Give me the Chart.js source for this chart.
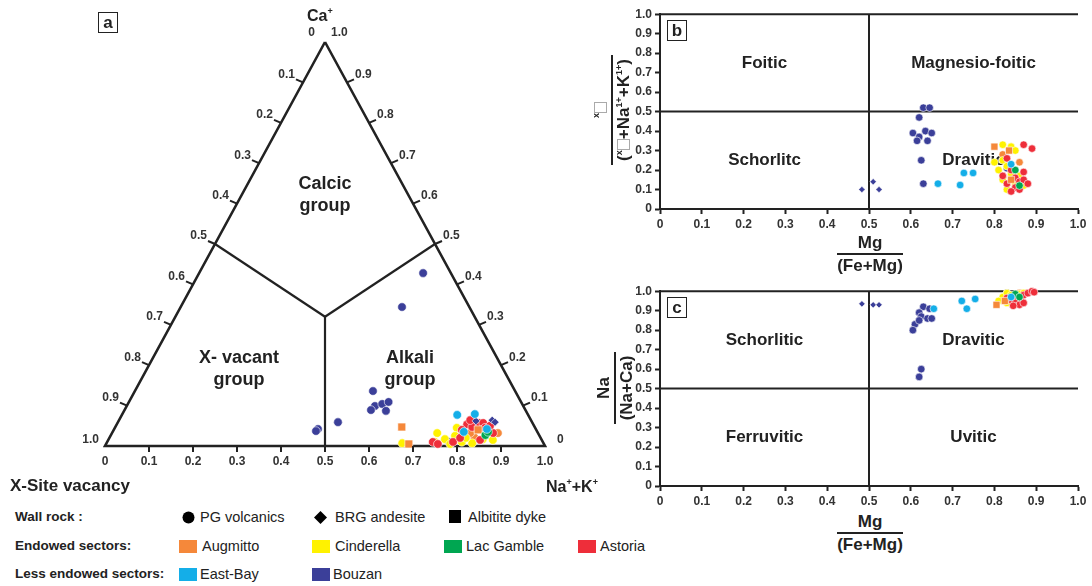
<!DOCTYPE html>
<html lang="en">
<head>
<meta charset="UTF-8">
<title>Tourmaline classification diagrams</title>
<script src="https://cdn.jsdelivr.net/npm/chart.js"></script>
<style>
  body { margin: 0; background: #fff; width: 1092px; height: 586px; overflow: hidden; position: relative;
         font-family: "Liberation Sans", Arial, sans-serif; color: #222; }
  canvas { position: absolute; }
  .txt { position: absolute; font-weight: bold; white-space: nowrap; }
  .tag { position: absolute; border: 1.5px solid #222; font-weight: bold; font-size: 17px; line-height: 19px;
         text-align: center; width: 18px; height: 19px; }
  .grp { position: absolute; font-weight: bold; font-size: 18px; line-height: 22px; text-align: center; width: 120px; }
  .frac { position: absolute; font-weight: bold; font-size: 17px; line-height: 19px; text-align: center; }
  .frac .bar { border-top: 2px solid #222; margin: 1px 0; }
  .rot { transform: rotate(-90deg); transform-origin: 50% 50%; }
  .vac { display: inline-block; width: 9px; height: 11px; border: 1px solid #aaa; vertical-align: -1px; }
  .frac sup, .txt sup { font-size: 9px; vertical-align: 7px; line-height: 0; }
  .lg { position: absolute; font-size: 14.5px; line-height: 18px; white-space: nowrap; }
  .lg.hd { font-weight: bold; font-size: 13.5px; }
  .sw { position: absolute; width: 18px; height: 13px; }
</style>
</head>
<body>

<canvas id="ternary" width="590" height="500" style="left:0;top:0"></canvas>
<canvas id="chartB" width="492" height="230" style="left:600px;top:4px"></canvas>
<canvas id="chartC" width="492" height="230" style="left:600px;top:281px"></canvas>

<!-- panel a texts -->
<div class="tag" style="left:98px;top:12px">a</div>
<div class="txt" style="left:307px;top:7px;font-size:16px">Ca<sup>+</sup></div>
<div class="grp" style="left:265px;top:172px">Calcic<br>group</div>
<div class="grp" style="left:179px;top:346px">X- vacant<br>group</div>
<div class="grp" style="left:350px;top:346px">Alkali<br>group</div>
<div class="txt" style="left:10px;top:476px;font-size:17px">X-Site vacancy</div>
<div class="txt" style="left:546px;top:478px;font-size:16px">Na<sup>+</sup>+K<sup>+</sup></div>

<!-- panel b texts -->
<div class="tag" style="left:667px;top:20px">b</div>
<div class="frac" style="left:837px;top:233px;width:66px">Mg<div class="bar"></div>(Fe+Mg)</div>
<div class="frac rot" style="left:557px;top:89px;width:110px">
  <sup>x</sup><span class="vac"></span><div class="bar"></div>(<sup>x</sup><span class="vac"></span>+Na<sup>1+</sup>+K<sup>1+</sup>)
</div>

<!-- panel c texts -->
<div class="tag" style="left:667px;top:297px">c</div>
<div class="frac" style="left:837px;top:512px;width:66px">Mg<div class="bar"></div>(Fe+Mg)</div>
<div class="frac rot" style="left:579px;top:367px;width:72px">Na<div class="bar"></div>(Na+Ca)</div>

<!-- legend -->
<div class="lg hd" style="left:15px;top:508px">Wall rock :</div>
<svg style="position:absolute;left:182px;top:511px" width="13" height="13"><circle cx="6.5" cy="6.5" r="6" fill="#000"/></svg>
<div class="lg" style="left:200px;top:508px">PG volcanics</div>
<svg style="position:absolute;left:314px;top:511px" width="13" height="13"><polygon points="6.5,0 13,6.5 6.5,13 0,6.5" fill="#000"/></svg>
<div class="lg" style="left:335px;top:508px">BRG andesite</div>
<div class="sw" style="left:449px;top:510px;width:12px;background:#000"></div>
<div class="lg" style="left:468px;top:508px">Albitite dyke</div>

<div class="lg hd" style="left:15px;top:537px">Endowed sectors:</div>
<div class="sw" style="left:179px;top:540px;background:#f5883a"></div>
<div class="lg" style="left:202px;top:537px">Augmitto</div>
<div class="sw" style="left:312px;top:540px;background:#fff200"></div>
<div class="lg" style="left:335px;top:537px">Cinderella</div>
<div class="sw" style="left:444px;top:540px;background:#00a651"></div>
<div class="lg" style="left:466px;top:537px">Lac Gamble</div>
<div class="sw" style="left:578px;top:540px;background:#ee2e3a"></div>
<div class="lg" style="left:600px;top:537px">Astoria</div>

<div class="lg hd" style="left:15px;top:565px">Less endowed sectors:</div>
<div class="sw" style="left:179px;top:568px;background:#14aee8"></div>
<div class="lg" style="left:200px;top:565px">East-Bay</div>
<div class="sw" style="left:312px;top:568px;background:#3b3f99"></div>
<div class="lg" style="left:333px;top:565px">Bouzan</div>

<script>
// ---- colours per sector ----
const colAugmitto = '#f5883a';
const colCinderella = '#fff200';
const colLacGamble = '#00a651';
const colAstoria = '#ee2e3a';
const colEastBay = '#14aee8';
const colBouzan = '#3b3f99';

// ---- panel a: ternary values as [Na+K, Ca] (X-site vacancy = remainder) ----
const terBouzan = [[0.509,0.428],[0.503,0.344],[0.541,0.136],[0.564,0.099],[0.560,0.089],[0.578,0.104],
                   [0.590,0.109],[0.595,0.087],[0.463,0.042],[0.461,0.037],[0.500,0.059],[0.777,0.010]];
const terBouzanDia = [[0.848,0.064],[0.857,0.059],[0.812,0.062]];
const terEastBay = [[0.762,0.077],[0.801,0.079],[0.798,0.035],[0.847,0.042]];
const terAugmittoSq = [[0.651,0.047],[0.688,0.005],[0.828,0.040]];
const terAugmitto = [[0.877,0.032],[0.828,0.022],[0.814,0.032]];
const terCinderella = [[0.739,0.032],[0.745,0.010],[0.764,0.017],[0.777,0.045],[0.806,0.010],[0.831,0.007],
                       [0.874,0.015],[0.850,0.017],[0.672,0.007],[0.783,0.025],[0.782,0.005],[0.810,0.020]];
const terAstoria = [[0.740,0.010],[0.754,0.005],[0.786,0.010],[0.796,0.054],[0.811,0.047],[0.822,0.057],[0.831,0.057],
                    [0.845,0.015],[0.866,0.032],[0.797,0.020],[0.798,0.064],[0.841,0.045],[0.791,0.040],[0.850,0.050]];
const terLacGamble = [[0.851,0.027],[0.853,0.035]];

// triangle corners and field boundaries, [Na+K, Ca]
const terOutline = [[0,1],[0,0],[1,0],[0,1]];
const terJunction = [0.34, 0.32];
const terBoundaries = [[[0,0.5],terJunction],[[0.5,0],terJunction],[[0.5,0.5],terJunction]];
const terTickLabels = ['0','0.1','0.2','0.3','0.4','0.5','0.6','0.7','0.8','0.9','1.0'];

// ---- panel b: [Mg/(Fe+Mg), vacancy/(vacancy+Na+K)] ----
const bBouzan = [[0.63,0.52],[0.645,0.52],[0.62,0.47],[0.605,0.39],[0.62,0.37],[0.635,0.40],[0.65,0.39],
                 [0.615,0.35],[0.64,0.35],[0.625,0.25],[0.63,0.13],[0.83,0.21]];
const bBouzanDia = [[0.483,0.10],[0.51,0.14],[0.524,0.10]];
const bEastBay = [[0.665,0.13],[0.727,0.185],[0.749,0.185],[0.718,0.123],[0.84,0.23]];
const bAugmittoSq = [[0.80,0.32],[0.835,0.30],[0.84,0.15]];
const bAugmitto = [[0.86,0.24],[0.85,0.15],[0.82,0.28]];
const bCinderella = [[0.82,0.33],[0.84,0.32],[0.85,0.30],[0.82,0.25],[0.83,0.22],[0.81,0.20],[0.84,0.18],
                     [0.86,0.17],[0.82,0.15],[0.85,0.13],[0.87,0.12],[0.83,0.10],[0.80,0.24]];
const bAstoria = [[0.87,0.33],[0.89,0.31],[0.83,0.26],[0.84,0.20],[0.85,0.16],[0.86,0.14],[0.87,0.15],
                  [0.83,0.13],[0.85,0.11],[0.86,0.10],[0.84,0.09],[0.82,0.17],[0.87,0.19],[0.88,0.13]];
const bLacGamble = [[0.85,0.20],[0.86,0.12]];
const bFields = ['Foitic', 'Magnesio-foitic', 'Schorlitc', 'Dravitic'];

// ---- panel c: [Mg/(Fe+Mg), Na/(Na+Ca)] ----
const cBouzan = [[0.63,0.92],[0.645,0.91],[0.62,0.89],[0.625,0.87],[0.64,0.86],[0.65,0.86],[0.61,0.83],
                 [0.605,0.80],[0.62,0.85],[0.625,0.60],[0.62,0.56],[0.83,0.99]];
const cBouzanDia = [[0.483,0.935],[0.51,0.93],[0.524,0.93]];
const cEastBay = [[0.655,0.91],[0.722,0.95],[0.754,0.96],[0.734,0.91],[0.84,0.97]];
const cAugmittoSq = [[0.805,0.93],[0.825,0.95]];
const cAugmitto = [[0.86,0.99],[0.83,0.955]];
const cCinderella = [[0.82,0.97],[0.83,0.99],[0.84,0.98],[0.85,0.96],[0.86,0.985],[0.81,0.95],[0.83,0.94],[0.87,0.99]];
const cAstoria = [[0.84,0.955],[0.85,0.97],[0.86,0.95],[0.87,0.98],[0.88,0.99],[0.89,1.0],[0.83,0.965],
                  [0.85,0.94],[0.86,0.93],[0.87,0.94],[0.895,0.995],[0.845,0.925]];
const cLacGamble = [[0.85,0.985],[0.86,0.97]];
const cFields = ['Schorlitic', 'Dravitic', 'Ferruvitic', 'Uvitic'];

const axisTicks = ['0','0.1','0.2','0.3','0.4','0.5','0.6','0.7','0.8','0.9','1.0'];

const FONT = '"Liberation Sans", Arial, sans-serif';
const INK = '#222';

const xy = list => list.map(([x, y]) => ({ x, y }));
const tern = list => list.map(([na, ca]) => ({ x: na + ca / 2, y: ca }));

function marks(data, color, shape, r) {
  return { data, backgroundColor: color, borderColor: '#fff', borderWidth: 0.6,
           pointStyle: shape, pointRadius: r, pointHoverRadius: r, clip: false };
}
function segment(data, w) {
  return { data, showLine: true, borderColor: INK, borderWidth: w, pointRadius: 0,
           pointHoverRadius: 0, fill: false, clip: false, order: 10 };
}

// ternary ticks and numbers along the three sides
const ternaryAxes = {
  id: 'ternaryAxes',
  afterDatasetsDraw(chart) {
    const { ctx, scales: { x, y } } = chart;
    const P = (na, ca) => [x.getPixelForValue(na + ca / 2), y.getPixelForValue(ca)];
    ctx.save();
    ctx.strokeStyle = INK;
    ctx.lineWidth = 2;
    ctx.fillStyle = '#333';
    ctx.font = 'bold 12px ' + FONT;
    ctx.textBaseline = 'middle';
    for (let i = 1; i <= 9; i++) {
      const v = i / 10;
      // base: Na+K
      let [px, py] = P(v, 0);
      ctx.beginPath(); ctx.moveTo(px, py); ctx.lineTo(px, py + 6); ctx.stroke();
      // left side: X-site vacancy
      [px, py] = P(0, 1 - v);
      ctx.beginPath(); ctx.moveTo(px, py); ctx.lineTo(px - 7, py - 3); ctx.stroke();
      ctx.textAlign = 'right';
      ctx.fillText(terTickLabels[i], px - 8, py - 8);
      // right side: Ca
      [px, py] = P(1 - v, v);
      ctx.beginPath(); ctx.moveTo(px, py); ctx.lineTo(px + 7, py - 3); ctx.stroke();
      ctx.textAlign = 'left';
      ctx.fillText(terTickLabels[i], px + 8, py - 8);
    }
    ctx.textAlign = 'center';
    terTickLabels.forEach((t, i) => {
      const [px, py] = P(i / 10, 0);
      ctx.fillText(t, px, py + 16);
    });
    const [ax, ay] = P(0, 1);
    ctx.textAlign = 'right'; ctx.fillText(terTickLabels[0], ax - 10, ay - 9);
    ctx.textAlign = 'left'; ctx.fillText(terTickLabels[10], ax + 6, ay - 9);
    const [lx, ly] = P(0, 0);
    ctx.textAlign = 'right'; ctx.fillText(terTickLabels[10], lx - 6, ly - 6);
    const [rx, ry] = P(1, 0);
    ctx.textAlign = 'left'; ctx.fillText(terTickLabels[0], rx + 12, ry - 6);
    ctx.restore();
  }
};

// field names in the four quadrants
const fieldNames = {
  id: 'fieldNames',
  beforeDatasetsDraw(chart, args, opts) {
    const { ctx, scales: { x, y } } = chart;
    const spots = [[0.25, 0.75], [0.75, 0.75], [0.25, 0.25], [0.75, 0.25]];
    ctx.save();
    ctx.fillStyle = INK;
    ctx.font = 'bold 17px ' + FONT;
    ctx.textAlign = 'center';
    ctx.textBaseline = 'middle';
    opts.names.forEach((t, i) => ctx.fillText(t, x.getPixelForValue(spots[i][0]), y.getPixelForValue(spots[i][1])));
    ctx.restore();
  }
};

Chart.defaults.font.family = FONT;

new Chart(document.getElementById('ternary'), {
  type: 'scatter',
  data: {
    datasets: [
      marks(tern(terEastBay), colEastBay, 'circle', 4.3),
      marks(tern(terLacGamble), colLacGamble, 'circle', 4.3),
      marks(tern(terAugmittoSq), colAugmitto, 'rect', 5.6),
      marks(tern(terBouzanDia), colBouzan, 'rectRot', 4),
      marks(tern(terAstoria), colAstoria, 'circle', 4.3),
      marks(tern(terCinderella), colCinderella, 'circle', 4.3),
      marks(tern(terAugmitto), colAugmitto, 'circle', 4.3),
      marks(tern(terBouzan), colBouzan, 'circle', 4.3),
      segment(tern(terOutline), 2.6),
      ...terBoundaries.map(b => segment(tern(b), 2.2))
    ]
  },
  options: {
    responsive: false,
    animation: false,
    events: [],
    layout: { padding: { left: 105, right: 45, top: 42, bottom: 54 } },
    scales: {
      x: { type: 'linear', min: 0, max: 1, display: false },
      y: { type: 'linear', min: 0, max: 1, display: false }
    },
    plugins: { legend: { display: false }, tooltip: { enabled: false } }
  },
  plugins: [ternaryAxes]
});

function classChart(id, sets, names) {
  const tickFont = { family: FONT, size: 12, weight: 'bold' };
  const axis = {
    type: 'linear', min: 0, max: 1,
    ticks: { stepSize: 0.1, autoSkip: false, maxRotation: 0, padding: 3, color: '#333', font: tickFont,
             callback: (v) => axisTicks[Math.round(v * 10)] },
    grid: { display: true, drawOnChartArea: false, drawTicks: true, tickLength: 5, tickWidth: 2, tickColor: INK },
    border: { display: true, width: 2, color: INK }
  };
  new Chart(document.getElementById(id), {
    type: 'scatter',
    data: {
      datasets: [
        marks(xy(sets.eastBay), colEastBay, 'circle', 3.8),
        marks(xy(sets.lacGamble), colLacGamble, 'circle', 3.8),
        marks(xy(sets.augmittoSq), colAugmitto, 'rect', 5),
        marks(xy(sets.astoria), colAstoria, 'circle', 3.8),
        marks(xy(sets.cinderella), colCinderella, 'circle', 3.8),
        marks(xy(sets.augmitto), colAugmitto, 'circle', 3.8),
        marks(xy(sets.bouzan), colBouzan, 'circle', 3.8),
        marks(xy(sets.bouzanDia), colBouzan, 'rectRot', 3.2),
        segment(xy([[0.5, 0], [0.5, 1]]), 2),
        segment(xy([[0, 0.5], [1, 0.5]]), 2),
        segment(xy([[0, 1], [1, 1]]), 2)
      ]
    },
    options: {
      responsive: false,
      animation: false,
      events: [],
      layout: { padding: { left: 0, right: 14, top: 10, bottom: 0 } },
      scales: {
        x: { ...axis, afterFit: (s) => { s.height = 25; } },
        y: { ...axis, afterFit: (s) => { s.width = 60; } }
      },
      plugins: { legend: { display: false }, tooltip: { enabled: false }, fieldNames: { names } }
    },
    plugins: [fieldNames]
  });
}

classChart('chartB', {
  bouzan: bBouzan, bouzanDia: bBouzanDia, eastBay: bEastBay, augmittoSq: bAugmittoSq,
  augmitto: bAugmitto, cinderella: bCinderella, astoria: bAstoria, lacGamble: bLacGamble
}, bFields);

classChart('chartC', {
  bouzan: cBouzan, bouzanDia: cBouzanDia, eastBay: cEastBay, augmittoSq: cAugmittoSq,
  augmitto: cAugmitto, cinderella: cCinderella, astoria: cAstoria, lacGamble: cLacGamble
}, cFields);
</script>
</body>
</html>
